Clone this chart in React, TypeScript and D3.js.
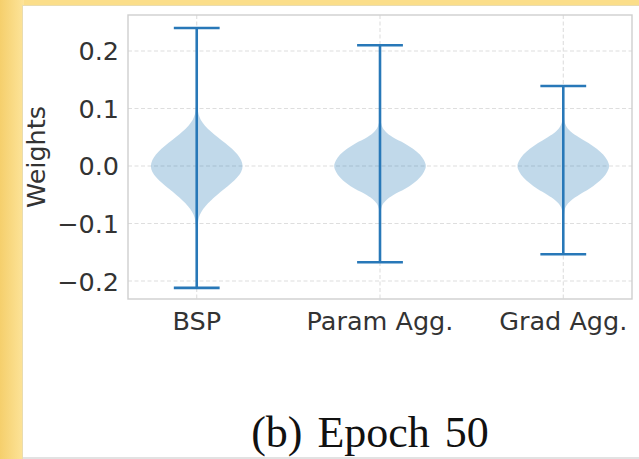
import React from 'react';
import * as d3 from 'd3';

// Weight distributions per training scheme at epoch 50
const categories = ['BSP', 'Param Agg.', 'Grad Agg.'];
const positions = [1, 2, 3];
const maxima = [0.24, 0.21, 0.139];
const minima = [-0.212, -0.1675, -0.1536];
const yTicks = [-0.2, -0.1, 0.0, 0.1, 0.2];

// Kernel density profiles: [weight value, density relative to peak]
const bspProfile: [number, number][] = [
  [-0.212, 0.004], [-0.15, 0.006], [-0.12, 0.01], [-0.1, 0.025], [-0.09, 0.045],
  [-0.08, 0.1], [-0.07, 0.19], [-0.06, 0.31], [-0.05, 0.45], [-0.04, 0.6],
  [-0.03, 0.75], [-0.02, 0.88], [-0.01, 0.97], [0.0, 1.0], [0.01, 0.97],
  [0.02, 0.89], [0.03, 0.77], [0.04, 0.62], [0.05, 0.46], [0.06, 0.31],
  [0.07, 0.18], [0.08, 0.09], [0.09, 0.04], [0.1, 0.02], [0.12, 0.01],
  [0.18, 0.005], [0.24, 0.004],
];
const paramProfile: [number, number][] = [
  [-0.1675, 0.004], [-0.12, 0.006], [-0.09, 0.01], [-0.08, 0.016], [-0.07, 0.04],
  [-0.06, 0.13], [-0.05, 0.3], [-0.04, 0.54], [-0.03, 0.73], [-0.02, 0.87],
  [-0.01, 0.96], [0.0, 1.0], [0.01, 0.96], [0.02, 0.87], [0.03, 0.72],
  [0.04, 0.52], [0.05, 0.28], [0.06, 0.12], [0.07, 0.04], [0.08, 0.015],
  [0.1, 0.008], [0.15, 0.005], [0.21, 0.004],
];
const gradProfile: [number, number][] = [
  [-0.1536, 0.004], [-0.11, 0.007], [-0.09, 0.012], [-0.08, 0.022], [-0.07, 0.06],
  [-0.06, 0.17], [-0.05, 0.35], [-0.04, 0.56], [-0.03, 0.73], [-0.02, 0.87],
  [-0.01, 0.96], [0.0, 1.0], [0.01, 0.96], [0.02, 0.87], [0.03, 0.73],
  [0.04, 0.55], [0.05, 0.34], [0.06, 0.16], [0.07, 0.06], [0.08, 0.02],
  [0.1, 0.01], [0.139, 0.004],
];
const profiles = [bspProfile, paramProfile, gradProfile];

const W = 639;
const H = 459;
const plot = { left: 128, right: 632, top: 15, bottom: 299 };

const x = d3.scaleLinear().domain([0.625, 3.375]).range([plot.left, plot.right]);
const y = d3.scaleLinear().domain([-0.2313, 0.2626]).range([plot.bottom, plot.top]);

const halfWidth = 0.25; // violin half width in data units
const capHalf = 0.125;
const lineColor = '#2878b8';
const tickFont = "'DejaVu Sans', sans-serif";
const tickSize = 25.5;
const textColor = '#333333';
const gridColor = '#dedede';

function violinPath(pos: number, profile: [number, number][]): string {
  const area = d3
    .area<[number, number]>()
    .y((d) => y(d[0]))
    .x0((d) => x(pos - d[1] * halfWidth))
    .x1((d) => x(pos + d[1] * halfWidth))
    .curve(d3.curveMonotoneY);
  return area(profile) ?? '';
}

const fmt = (v: number) => d3.format('.1f')(v).replace('-', '\u2212');

export default function App() {
  return (
    <svg
      width={W}
      height={H}
      viewBox={`0 0 ${W} ${H}`}
      style={{ position: 'absolute', left: 0, top: 0, display: 'block' }}
    >
      <defs>
        <linearGradient id="edge" x1="0" x2="1" y1="0" y2="0">
          <stop offset="0" stopColor="#f5cf6c" />
          <stop offset="1" stopColor="#fde49a" />
        </linearGradient>
      </defs>
      <rect x={0} y={0} width={W} height={H} fill="#fbde8a" />
      <rect x={0} y={0} width={24} height={H} fill="url(#edge)" />
      <rect x={22} y={5} width={W - 22} height={H - 5} fill="#e9dcb0" />
      <rect x={23} y={6} width={W - 23} height={451} fill="#ffffff" />
      <rect x={23} y={457} width={W - 23} height={2} fill="#e2e2e2" />

      {/* grid */}
      {yTicks.map((t) => (
        <line
          key={`gy${t}`}
          x1={plot.left}
          x2={plot.right}
          y1={y(t)}
          y2={y(t)}
          stroke={gridColor}
          strokeWidth={1.1}
          strokeDasharray="4,2.5"
        />
      ))}
      {positions.map((p) => (
        <line
          key={`gx${p}`}
          x1={x(p)}
          x2={x(p)}
          y1={plot.top}
          y2={plot.bottom}
          stroke={gridColor}
          strokeWidth={1.1}
          strokeDasharray="4,2.5"
        />
      ))}

      {/* violins */}
      {positions.map((p, i) => (
        <path key={`v${p}`} d={violinPath(p, profiles[i])} fill="#1f77b4" fillOpacity={0.28} />
      ))}
      {positions.map((p, i) => (
        <g key={`s${p}`} stroke={lineColor} strokeWidth={2.6}>
          <line x1={x(p)} x2={x(p)} y1={y(maxima[i])} y2={y(minima[i])} />
          <line x1={x(p - capHalf)} x2={x(p + capHalf)} y1={y(maxima[i])} y2={y(maxima[i])} />
          <line x1={x(p - capHalf)} x2={x(p + capHalf)} y1={y(minima[i])} y2={y(minima[i])} />
        </g>
      ))}

      {/* frame */}
      <rect
        x={plot.left}
        y={plot.top}
        width={plot.right - plot.left}
        height={plot.bottom - plot.top}
        fill="none"
        stroke="#cfcfcf"
        strokeWidth={1.4}
      />

      {/* tick labels */}
      {yTicks.map((t) => (
        <text
          key={`ty${t}`}
          x={119}
          y={y(t) + 9.5}
          textAnchor="end"
          fontFamily={tickFont}
          fontSize={tickSize}
          fill={textColor}
        >
          {fmt(t)}
        </text>
      ))}
      {positions.map((p, i) => (
        <text
          key={`tx${p}`}
          x={x(p)}
          y={330}
          textAnchor="middle"
          fontFamily={tickFont}
          fontSize={tickSize}
          fill={textColor}
        >
          {categories[i]}
        </text>
      ))}
      <text
        transform={`translate(45, ${(plot.top + plot.bottom) / 2}) rotate(-90)`}
        textAnchor="middle"
        fontFamily={tickFont}
        fontSize={tickSize}
        fill={textColor}
      >
        Weights
      </text>

      {/* caption */}
      <text
        x={370}
        y={447}
        textAnchor="middle"
        fontFamily="Liberation Serif, Times New Roman, Times, serif"
        fontSize={44}
        fill="#111111"
        wordSpacing={4}
      >
        (b) Epoch 50
      </text>
    </svg>
  );
}
